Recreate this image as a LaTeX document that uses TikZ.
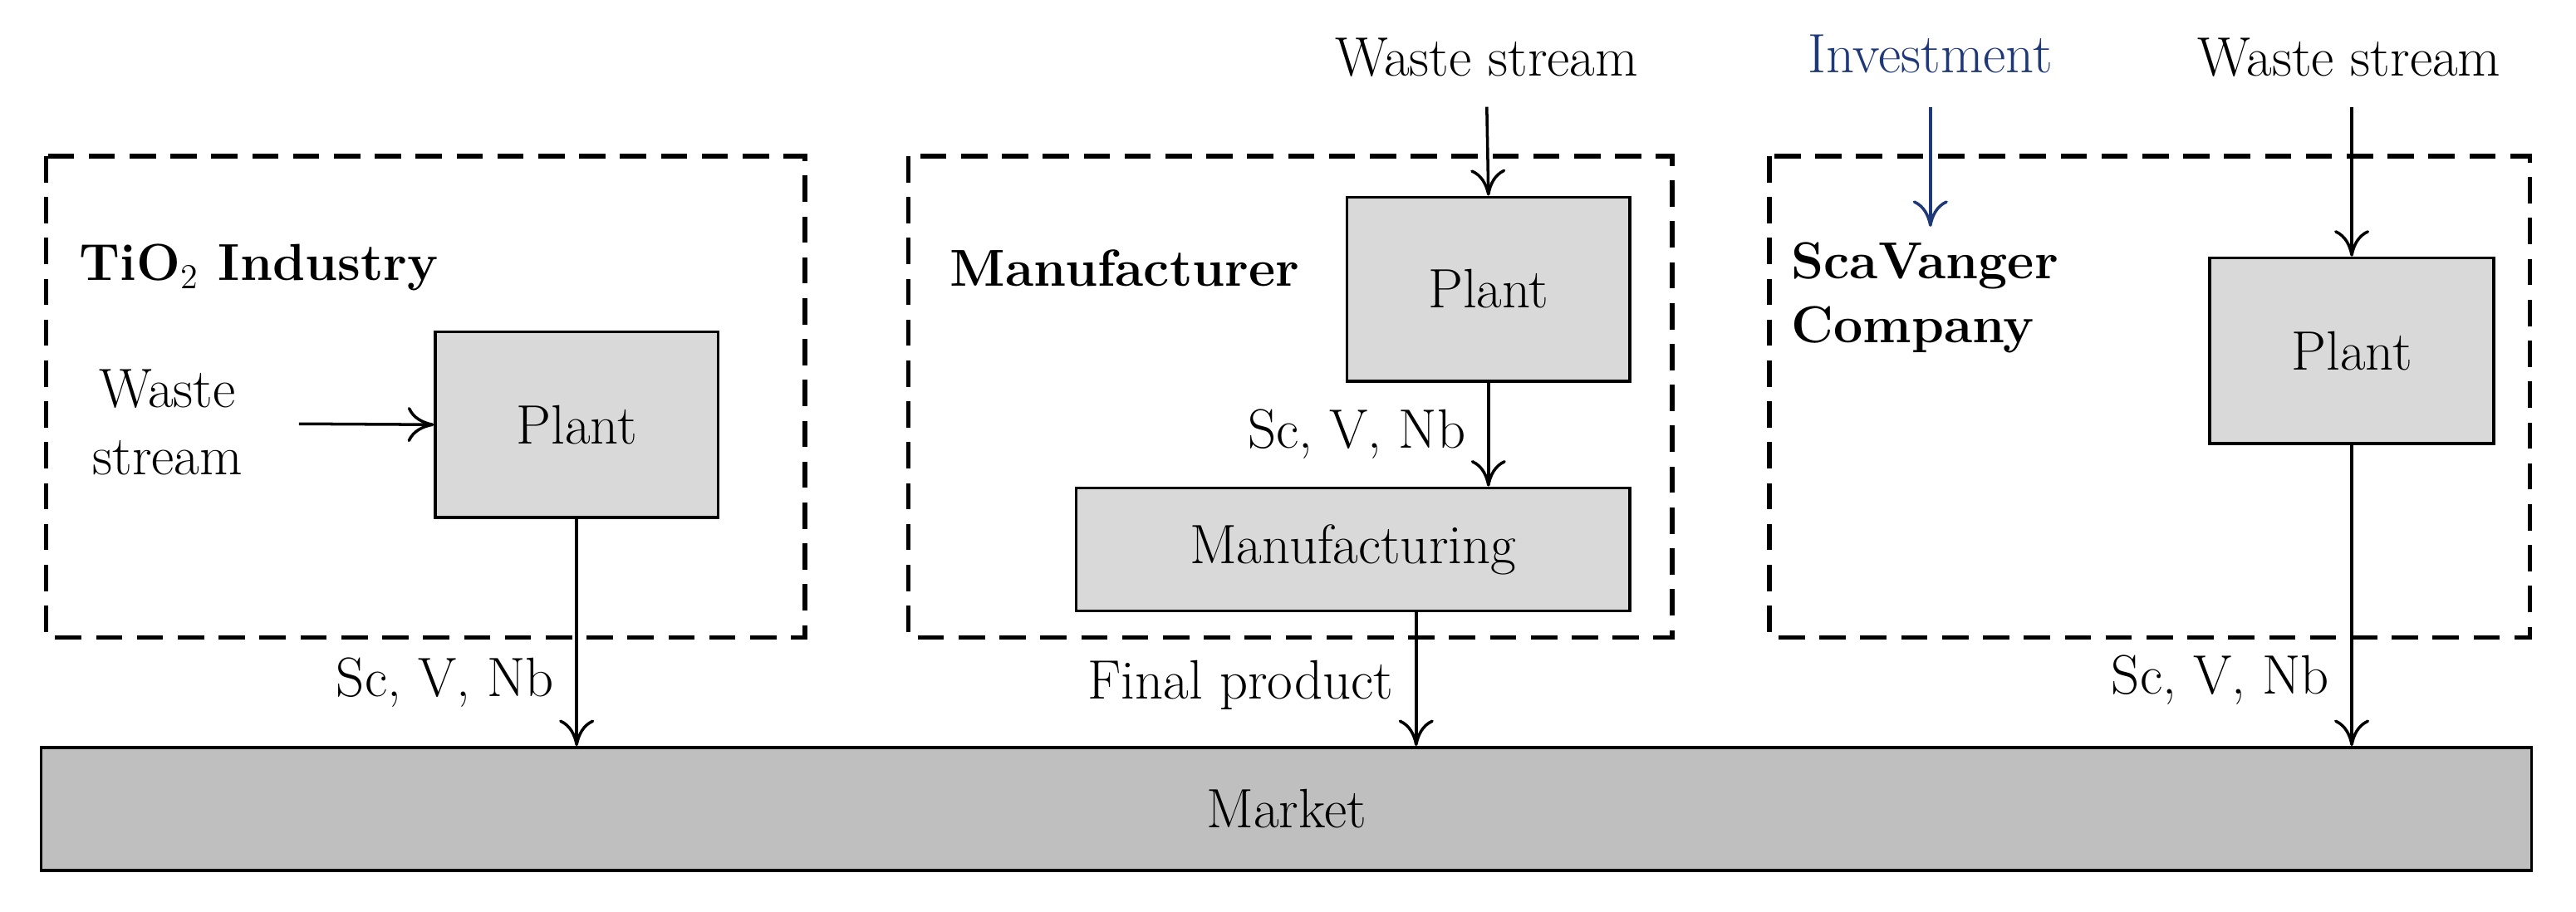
\documentclass[tikz,border=0pt]{standalone}
\usetikzlibrary{arrows.meta}
\begin{document}
\begin{tikzpicture}[x=0.019777cm,y=-0.019777cm,
  every node/.style={font=\fontsize{19}{23}\selectfont},
  dbox/.style={draw,line width=1.6pt,dash pattern=on 9pt off 5pt},
  gbox/.style={draw,line width=1pt,fill=black!15,inner sep=0pt},
  arr/.style={-{To[length=9pt,width=12pt]},line width=1pt},
  lbl/.style={inner sep=0pt},
  ttl/.style={inner sep=0pt,font=\fontsize{17.8}{22}\selectfont\bfseries}]
\useasboundingbox (0,0) rectangle (1568,554.7);
\draw[dbox] (28,95) rectangle (490,388);
\draw[dbox] (553,95) rectangle (1018,388);
\draw[dbox] (1077,95) rectangle (1540,388);
\node[gbox,fill=black!25,minimum width={1516*0.019777cm},minimum height={75*0.019777cm}] (market) at (783,492.5) {Market};
\node[gbox,minimum width={172*0.019777cm},minimum height={113*0.019777cm}] (p1) at (351,258.5) {Plant};
\node[gbox,minimum width={172*0.019777cm},minimum height={112*0.019777cm}] (p2) at (906,176) {Plant};
\node[gbox,minimum width={337*0.019777cm},minimum height={75*0.019777cm}] (mf) at (823.5,334.5) {Manufacturing};
\node[gbox,minimum width={173*0.019777cm},minimum height={113*0.019777cm}] (p3) at (1431.5,213.5) {Plant};
\node[ttl,anchor=west] (t1) at (48,163) {TiO$_2$ Industry};
\node[ttl,anchor=west] (t2) at (578,163) {Manufacturer};
\node[ttl,align=left,anchor=north west] (t3) at (1090,147) {ScaVanger\\Company};
\node[lbl,align=center] (w1) at (102,257) {Waste\\stream};
\node[lbl] (w2) at (905,35) {Waste stream};
\node[lbl,text={rgb,255:red,31;green,56;blue,120}] (inv) at (1175,33) {Investment};
\node[lbl] (w3) at (1430,35) {Waste stream};
\coordinate (w1e) at (182,258);
\draw[arr] (w1e) -- (p1.west);
\draw[arr] (p1.south) -- (p1.south|-market.north) node[pos=0.72,left=4pt] {Sc, V, Nb};
\draw[arr] (w2.south|-0,65) -- (p2.north);
\draw[arr] (p2.south) -- (p2.south|-mf.north) node[midway,left=4pt] {Sc, V, Nb};
\coordinate (mfo) at (862,372);
\draw[arr] (mfo) -- (mfo|-market.north) node[pos=0.55,left=4pt] {Final product};
\coordinate (invs) at (1175,65);
\coordinate (inve) at (1175,138);
\draw[arr,draw={rgb,255:red,31;green,56;blue,120}] (invs) -- (inve);
\draw[arr] (p3.north|-0,65) -- (p3.north);
\draw[arr] (p3.south) -- (p3.south|-market.north) node[pos=0.78,left=4pt] {Sc, V, Nb};
\end{tikzpicture}
\end{document}
